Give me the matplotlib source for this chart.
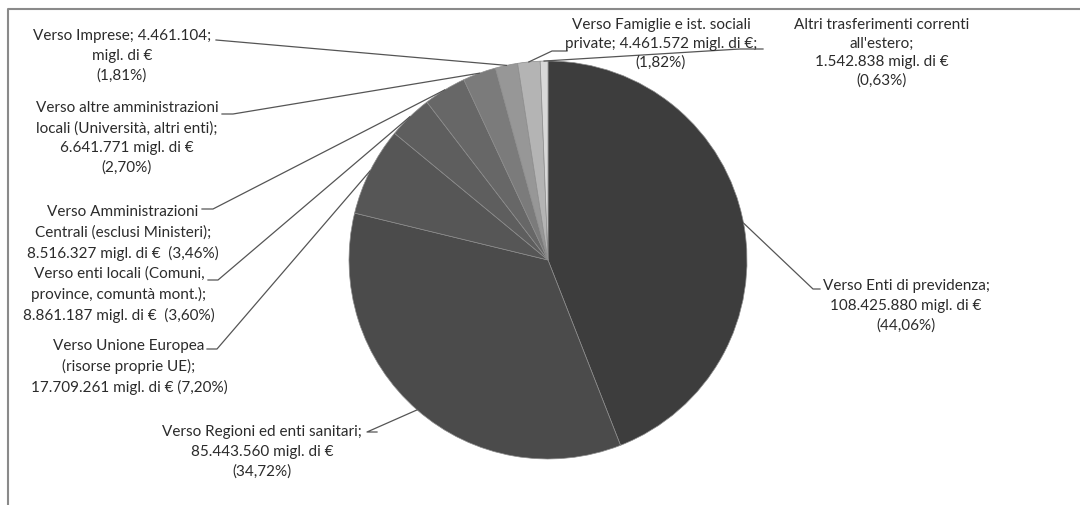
import numpy as np
import matplotlib
matplotlib.use("Agg")
import matplotlib.pyplot as plt

# trasferimenti correnti, migliaia di euro (in senso orario dalle ore 12)
categories = [
    "Verso Enti di previdenza",
    "Verso Regioni ed enti sanitari",
    "Verso Unione Europea (risorse proprie UE)",
    "Verso enti locali",
    "Verso Amministrazioni Centrali",
    "Verso altre amministrazioni locali",
    "Verso Imprese",
    "Verso Famiglie e ist. sociali private",
    "Altri trasferimenti correnti all'estero",
]
values = [108425880, 85443560, 17709261, 8861187, 8516327,
          6641771, 4461104, 4461572, 1542838]
labels = [
    "Verso Enti di previdenza;\n108.425.880 migl. di €\n(44,06%)",
    "Verso Regioni ed enti sanitari;\n85.443.560 migl. di €\n(34,72%)",
    "Verso Unione Europea\n(risorse proprie UE);\n17.709.261 migl. di € (7,20%)",
    "Verso enti locali (Comuni,\nprovince, comuntà mont.);\n8.861.187 migl. di €  (3,60%)",
    "Verso Amministrazioni\nCentrali (esclusi Ministeri);\n8.516.327 migl. di €  (3,46%)",
    "Verso altre amministrazioni\nlocali (Università, altri enti);\n6.641.771 migl. di €\n(2,70%)",
    "Verso Imprese; 4.461.104;\nmigl. di €\n(1,81%)",
    "Verso Famiglie e ist. sociali\nprivate; 4.461.572 migl. di €;\n(1,82%)",
    "Altri trasferimenti correnti\nall'estero;\n1.542.838 migl. di €\n(0,63%)",
]
colors = ['#3d3d3d', '#4b4b4b', '#565656', '#5e5e5e', '#676767',
          '#7b7b7b', '#979797', '#b4b4b4', '#d8d8d8']

W, H = 1080, 506
# posizioni in pixel (y dall'alto): centro del testo, inizio del richiamo
text_pos = [(906, 306), (262, 452), (129, 367), (119, 295), (123, 233),
            (127, 138), (122, 56), (661, 44), (882, 53)]
line_sp = [1.5, 1.5, 1.5, 1.5, 1.5, 1.5, 1.5, 1.4, 1.38]
leader_start = [[(820, 290), (813, 290)],
                [(377, 433), (367, 433)],
                [(207, 350), (217, 350)],
                [(208, 281), (218, 281)],
                [(202, 210), (213, 210)],
                [(222, 115), (233, 115)],
                [(216, 41)],
                [(567, 52), (552, 52)],
                [(763, 50), (740, 50)]]

plt.rcParams['font.family'] = ['Lato', 'DejaVu Sans']

fig = plt.figure(figsize=(W / 100, H / 100), dpi=100)
ax = fig.add_axes([0, 0, 1, 1])

cx, cy, r = 548, H - 261, 199
wedges, _ = ax.pie(values, colors=colors, startangle=90, counterclock=False,
                   center=(cx, cy), radius=r,
                   wedgeprops=dict(edgecolor='#8c8c8c', linewidth=0.5))

for i, w in enumerate(wedges):
    ang = np.deg2rad((w.theta1 + w.theta2) / 2)
    end = (cx + r * np.cos(ang), cy + r * np.sin(ang))
    pts = [(x, H - y) for x, y in leader_start[i]] + [end]
    ax.plot([p[0] for p in pts], [p[1] for p in pts], color='#555555', lw=0.9)
    tx, ty = text_pos[i]
    ax.text(tx, H - ty, labels[i], ha='center', va='center', multialignment='center',
            fontsize=11, color='#2b2b2b', linespacing=line_sp[i])

# cornice del grafico
ax.plot([8, 8, W + 5], [-5, H - 10, H - 10], color='#8a8a8a', lw=1.5)

ax.set_xlim(0, W)
ax.set_ylim(0, H)
ax.set_aspect('equal')
ax.axis('off')

fig.savefig('out.png', dpi=100, facecolor='white')
